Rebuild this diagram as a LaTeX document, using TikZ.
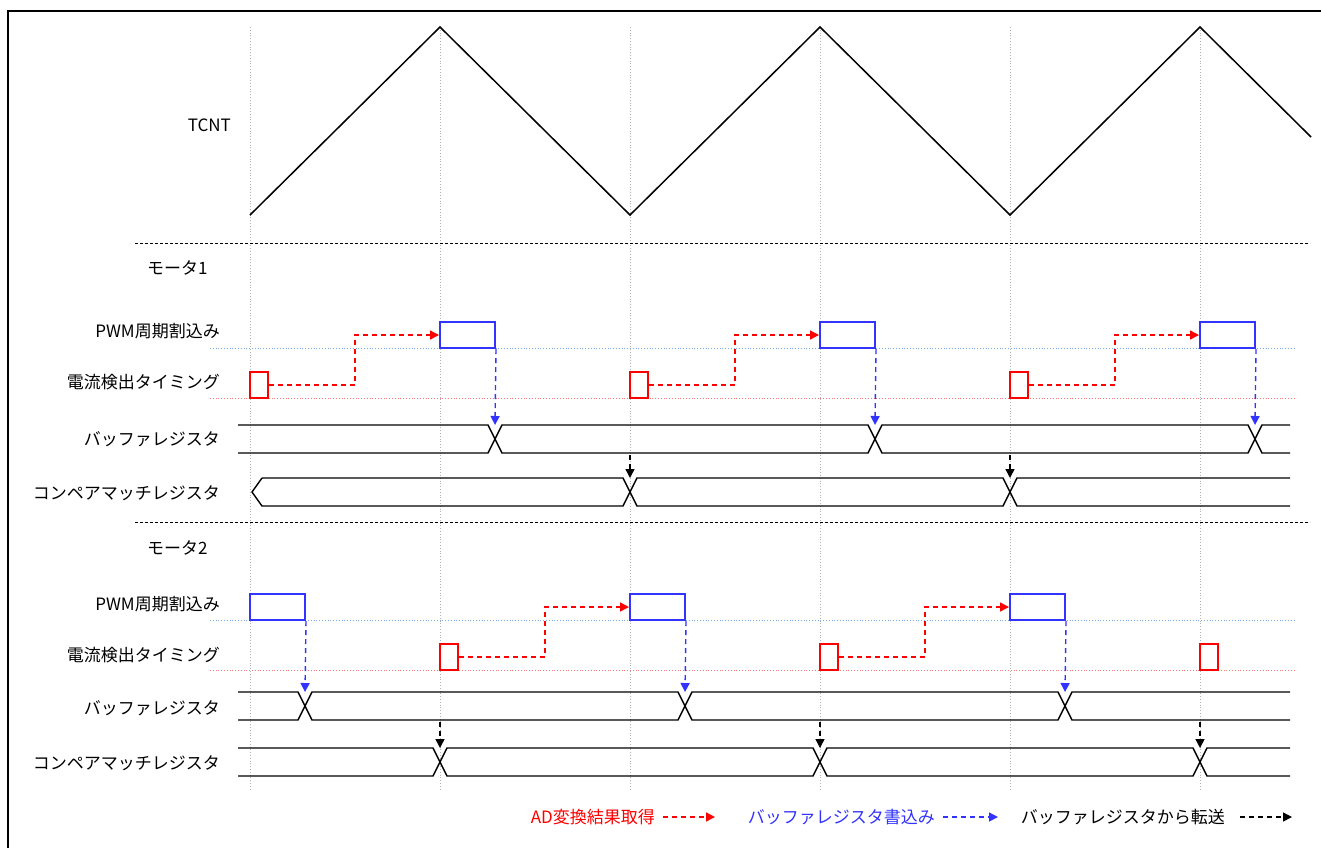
\documentclass[tikz,border=0pt]{standalone}
\usepackage{fontspec}
\setmainfont{Noto Sans CJK JP}
\usepackage{tikz}
\usetikzlibrary{arrows.meta}

\definecolor{adred}{RGB}{255,0,0}
\definecolor{wrblue}{RGB}{51,51,255}
\definecolor{rowblue}{RGB}{120,170,225}
\definecolor{rowred}{RGB}{240,120,120}

\tikzset{
  lbl/.style={font=\fontsize{17}{20}\selectfont, inner sep=0pt},
  grid/.style={gray!60, dotted, line width=0.8pt},
  rowline/.style={dotted, line width=0.8pt},
  sep/.style={dashed, line width=0.8pt, dash pattern=on 3pt off 2pt},
  bus/.style={line width=1.4pt},
  pwmbox/.style={draw=wrblue, line width=2pt, minimum width=55pt, minimum height=26pt, inner sep=0pt},
  adbox/.style={draw=adred, line width=2pt, minimum width=18pt, minimum height=26pt, inner sep=0pt},
  adarrow/.style={adred, line width=1.4pt, dash pattern=on 5pt off 4pt, -{Triangle[length=9pt,width=9pt]}},
  wrarrow/.style={wrblue, line width=1.4pt, dash pattern=on 5pt off 4pt, -{Triangle[length=9pt,width=9pt]}},
  xfarrow/.style={black, line width=1.4pt, dash pattern=on 5pt off 4pt, -{Triangle[length=9pt,width=9pt]}},
}

\begin{document}
\begin{tikzpicture}[x=1pt,y=-1pt]
  \useasboundingbox (0,0) rectangle (1321,847);
  % frame
  \draw[line width=2pt] (8,848) -- (8,11) -- (1322,11);

  % time grid
  \foreach \x in {250,440,630,820,1010,1200}
    \draw[grid] (\x,27) -- (\x,790);

  % TCNT
  \node[lbl, anchor=east] (tcnt) at (231,125) {TCNT};
  \draw[line width=1.5pt] (250,215) -- (440,27) -- (630,215) -- (820,27) -- (1010,215) -- (1200,27) -- (1311,137);

  % section separators
  \draw[sep] (135,243) -- (1310,243);
  \draw[sep] (135,522) -- (1310,522);

  % ---- motor 1 ----
  \node[lbl, anchor=west] (m1) at (147,268) {モータ1};
  \node[lbl, anchor=east] (m1pwm) at (220,331) {PWM周期割込み};
  \node[lbl, anchor=east] (m1adc) at (220,382) {電流検出タイミング};
  \node[lbl, anchor=east] (m1buf) at (220,439) {バッファレジスタ};
  \node[lbl, anchor=east] (m1cmp) at (220,493) {コンペアマッチレジスタ};
  \draw[rowline, rowblue] (210,348) -- (1295,348);
  \draw[rowline, rowred] (210,398) -- (1295,398);

  \draw[bus] (238,425) -- (488,425) -- (502,453) -- (868,453) -- (882,425) -- (1248,425) -- (1262,453) -- (1290,453);
  \draw[bus] (238,453) -- (488,453) -- (502,425) -- (868,425) -- (882,453) -- (1248,453) -- (1262,425) -- (1290,425);
  \draw[bus] (262,478) -- (623,478) -- (637,506) -- (1003,506) -- (1017,478) -- (1290,478);
  \draw[bus] (262,478) -- (252,492) -- (262,506) -- (623,506) -- (637,478) -- (1003,478) -- (1017,506) -- (1290,506);

  \foreach \i/\r/\p in {1/250/440, 2/630/820, 3/1010/1200} {
    \node[adbox] (m1ad\i) at (\r+9,385) {};
    \node[pwmbox] (m1pw\i) at (\p+27.5,335) {};
    \coordinate (m1bx\i) at (\p+55,425);
    \draw[adarrow] (m1ad\i.east) -- ++(86,0) |- (m1pw\i.west);
    \draw[wrarrow] (m1pw\i.south east) -- (m1bx\i);
  }
  \foreach \i/\x in {1/630, 2/1010} {
    \coordinate (m1bb\i) at (\x,455);
    \coordinate (m1cx\i) at (\x,478);
    \draw[xfarrow] (m1bb\i) -- (m1cx\i);
  }

  % ---- motor 2 ----
  \node[lbl, anchor=west] (m2) at (147,548) {モータ2};
  \node[lbl, anchor=east] (m2pwm) at (220,604) {PWM周期割込み};
  \node[lbl, anchor=east] (m2adc) at (220,655) {電流検出タイミング};
  \node[lbl, anchor=east] (m2buf) at (220,708) {バッファレジスタ};
  \node[lbl, anchor=east] (m2cmp) at (220,763) {コンペアマッチレジスタ};
  \draw[rowline, rowblue] (210,620) -- (1295,620);
  \draw[rowline, rowred] (210,670) -- (1295,670);

  \draw[bus] (238,692) -- (298,692) -- (312,720) -- (678,720) -- (692,692) -- (1058,692) -- (1072,720) -- (1290,720);
  \draw[bus] (238,720) -- (298,720) -- (312,692) -- (678,692) -- (692,720) -- (1058,720) -- (1072,692) -- (1290,692);
  \draw[bus] (238,748) -- (433,748) -- (447,776) -- (813,776) -- (827,748) -- (1193,748) -- (1207,776) -- (1290,776);
  \draw[bus] (238,776) -- (433,776) -- (447,748) -- (813,748) -- (827,776) -- (1193,776) -- (1207,748) -- (1290,748);

  \foreach \i/\p in {1/250, 2/630, 3/1010} {
    \node[pwmbox] (m2pw\i) at (\p+27.5,607) {};
    \coordinate (m2bx\i) at (\p+55,692);
    \draw[wrarrow] (m2pw\i.south east) -- (m2bx\i);
  }
  \foreach \i/\r in {1/440, 2/820, 3/1200}
    \node[adbox] (m2ad\i) at (\r+9,657) {};
  \draw[adarrow] (m2ad1.east) -- ++(86,0) |- (m2pw2.west);
  \draw[adarrow] (m2ad2.east) -- ++(86,0) |- (m2pw3.west);
  \foreach \i/\x in {1/440, 2/820, 3/1200} {
    \coordinate (m2bb\i) at (\x,722);
    \coordinate (m2cx\i) at (\x,748);
    \draw[xfarrow] (m2bb\i) -- (m2cx\i);
  }

  % legend
  \node[lbl, anchor=east, text=adred] (legad) at (655,817) {AD変換結果取得};
  \node[lbl, anchor=east, text=wrblue] (legwr) at (935,817) {バッファレジスタ書込み};
  \node[lbl, anchor=east] (legxf) at (1225,817) {バッファレジスタから転送};
  \draw[adarrow] ([xshift=8pt]legad.east) -- ++(52,0);
  \draw[wrarrow] ([xshift=8pt]legwr.east) -- ++(55,0);
  \draw[xfarrow] ([xshift=15pt]legxf.east) -- ++(52,0);
\end{tikzpicture}
\end{document}
